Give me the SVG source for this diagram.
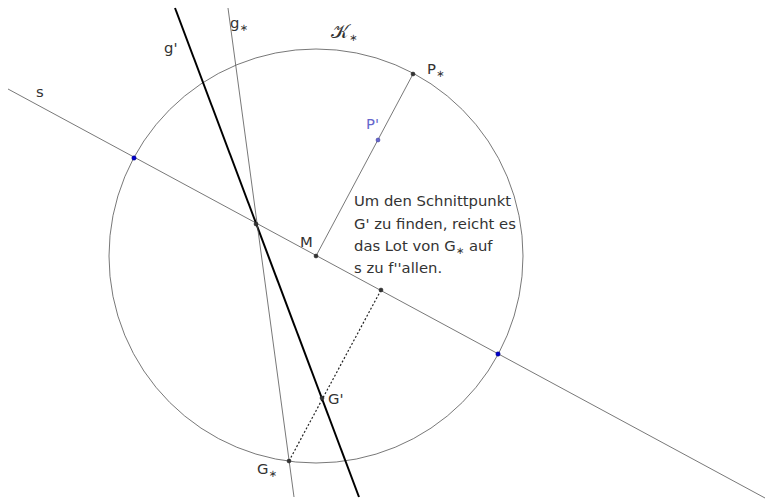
<svg xmlns="http://www.w3.org/2000/svg" width="765" height="502" viewBox="0 0 765 502">
<style>
text{font-family:"DejaVu Sans",sans-serif;font-size:14.8px;fill:#333}
.thin{stroke:#555;stroke-width:0.8;fill:none}
.thick{stroke:#000;stroke-width:2;fill:none}
.pt{fill:#333;stroke:#222;stroke-width:0.5}
.bpt{fill:#0000cc;stroke:#000080;stroke-width:0.5}
.sub{font-size:10px}
.cal{font-size:19px}
</style>
<rect width="765" height="502" fill="#fff"/>
<g id="connectors">
<circle class="thin" cx="316" cy="256" r="207"/>
<line class="thin" x1="8" y1="89" x2="765" y2="498"/>
<line class="thick" x1="175" y1="8" x2="359" y2="497"/>
<line class="thin" x1="228" y1="8" x2="294" y2="497"/>
<line class="thin" x1="316" y1="256" x2="413" y2="74"/>
<line stroke="#222" stroke-width="1.2" stroke-dasharray="2,2" x1="289" y1="461" x2="381" y2="290"/>
</g>
<g id="s"><text x="36" y="97">s</text></g>
<g id="gprime"><text x="164" y="53">g'</text></g>
<g id="gstar"><text x="230" y="28">g<tspan class="sub" dy="3">∗</tspan></text></g>
<g id="K"><text x="331" y="38"><tspan class="cal">𝒦</tspan><tspan class="sub" dy="3">∗</tspan></text></g>
<g id="Pstar"><circle class="pt" cx="413" cy="74" r="2"/><text x="427" y="74">P<tspan class="sub" dy="3">∗</tspan></text></g>
<g id="Pprime"><circle cx="378" cy="140" r="2" fill="#6666cc" stroke="#333399" stroke-width="0.5"/><text x="366" y="129" style="fill:#6666cc">P'</text></g>
<g id="S"><circle class="pt" cx="256" cy="224" r="2"/></g>
<g id="M"><circle class="pt" cx="316" cy="256" r="2"/><text x="300" y="247">M</text></g>
<g id="F"><circle class="pt" cx="381" cy="290" r="2"/></g>
<g id="A"><circle class="bpt" cx="134" cy="158" r="2.2"/></g>
<g id="B"><circle class="bpt" cx="498" cy="354" r="2.2"/></g>
<g id="Gprime"><circle class="pt" cx="322" cy="398" r="2"/><text x="328" y="404">G'</text></g>
<g id="Gstar"><circle class="pt" cx="289" cy="461" r="2"/><text x="257" y="474">G<tspan class="sub" dy="3">∗</tspan></text></g>
<g id="note">
<text x="354" y="206">Um den Schnittpunkt</text>
<text x="354" y="229">G' zu finden, reicht es</text>
<text x="354" y="251">das Lot von G<tspan class="sub" dy="3">∗</tspan><tspan dy="-3"> auf</tspan></text>
<text x="354" y="273">s zu f''allen.</text>
</g>
</svg>
